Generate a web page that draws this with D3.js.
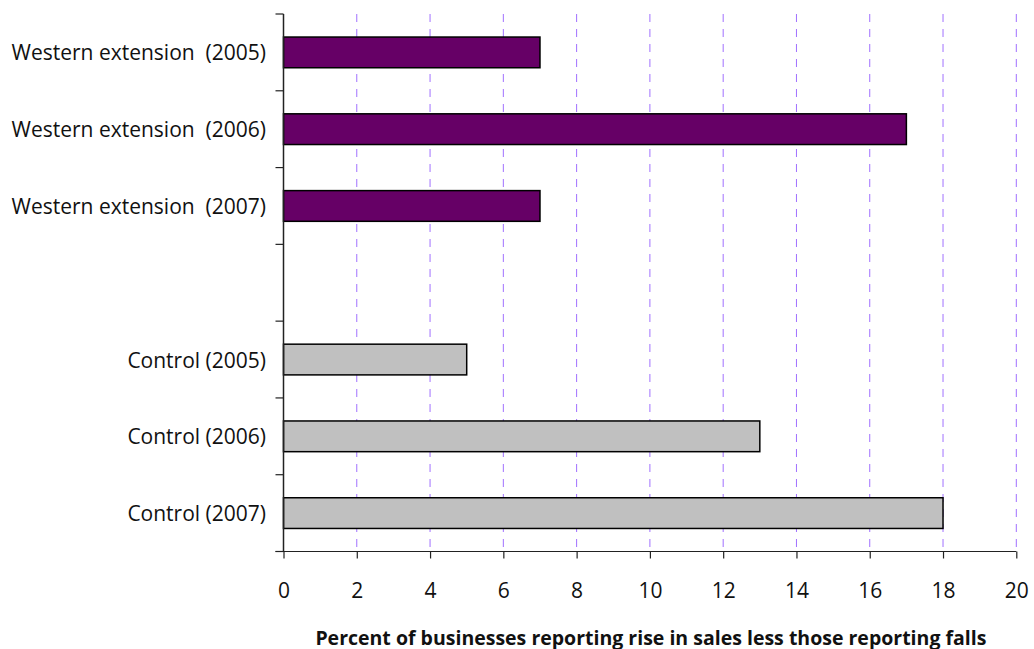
<!DOCTYPE html>
<html>
<head>
<meta charset="utf-8">
<script src="https://cdn.jsdelivr.net/npm/d3@7"></script>
<style>
  html, body { margin: 0; padding: 0; background: #fff; }
  svg { display: block; }
  text { font-family: "Open Sans", "Lato", sans-serif; }
</style>
</head>
<body>
<svg id="chart" width="1034" height="649"></svg>
<script>
const categories = [
  "Western extension  (2005)",
  "Western extension  (2006)",
  "Western extension  (2007)",
  "",
  "Control (2005)",
  "Control (2006)",
  "Control (2007)"
];
const values = [7, 17, 7, null, 5, 13, 18];
const groups = ["western", "western", "western", null, "control", "control", "control"];
const xTicks = [0, 2, 4, 6, 8, 10, 12, 14, 16, 18, 20];
const xTitle = "Percent of businesses reporting rise in sales less those reporting falls";
const colors = { western: "#660066", control: "#c0c0c0" };

(function () {
const svg = d3.select("#chart");
const mLeft = 283.5, mRight = 1016.3, mTop = 14, mBottom = 551.5;
const font = "'Open Sans', Lato, sans-serif";

const x = d3.scaleLinear().domain([0, 20]).range([mLeft, mRight]);
const y = d3.scaleBand().domain(d3.range(categories.length)).range([mTop, mBottom]).paddingInner(0.6).paddingOuter(0.3);

// gridlines
svg.append("g").selectAll("line").data(xTicks.filter(d => d > 0)).join("line")
  .attr("x1", d => x(d)).attr("x2", d => x(d))
  .attr("y1", mTop).attr("y2", mBottom)
  .attr("stroke", "#a070ff").attr("stroke-width", 1)
  .attr("stroke-dasharray", "8,7");

// bars
const data = categories.map((c, i) => ({ c, v: values[i], g: groups[i], i }))
  .filter(d => d.v !== null);
svg.append("g").selectAll("rect").data(data).join("rect")
  .attr("x", x(0))
  .attr("y", d => y(d.i))
  .attr("width", d => x(d.v) - x(0))
  .attr("height", y.bandwidth())
  .attr("fill", d => colors[d.g])
  .attr("stroke", "#000").attr("stroke-width", 1.5);

// y axis line and boundary ticks
svg.append("line").attr("x1", mLeft).attr("x2", mLeft).attr("y1", mTop).attr("y2", mBottom)
  .attr("stroke", "#222").attr("stroke-width", 1.5);
const bounds = d3.range(categories.length + 1).map(i => mTop + i * y.step());
svg.append("g").selectAll("line").data(bounds).join("line")
  .attr("x1", mLeft - 8).attr("x2", mLeft)
  .attr("y1", d => d).attr("y2", d => d)
  .attr("stroke", "#222").attr("stroke-width", 1.2);

// y labels
svg.append("g").selectAll("text").data(categories).join("text")
  .attr("x", 266)
  .attr("y", (d, i) => y(i) + y.bandwidth() / 2)
  .attr("text-anchor", "end")
  .attr("dominant-baseline", "central")
  .attr("font-size", 21)
  .attr("font-family", font)
  .attr("fill", "#111")
  .style("white-space", "pre")
  .text(d => d);

// x axis
const xAxis = d3.axisBottom(x).tickValues(xTicks).tickSize(7).tickPadding(25).tickFormat(d3.format("d"));
const gx = svg.append("g").attr("transform", `translate(0,${mBottom})`).call(xAxis);
gx.select(".domain").attr("stroke", "#222").attr("stroke-width", 1.2)
  .attr("d", `M${mLeft - 8},0H${mRight}`);
gx.selectAll(".tick line").attr("stroke", "#222").attr("stroke-width", 1.2);
gx.selectAll(".tick text").attr("font-size", 21).attr("fill", "#111")
  .attr("font-family", font);

// x title
svg.append("text")
  .attr("x", (mLeft + mRight) / 2 + 1)
  .attr("y", 637)
  .attr("text-anchor", "middle")
  .attr("dominant-baseline", "central")
  .attr("font-size", 19.5)
  .attr("font-family", font)
  .attr("font-weight", "bold")
  .attr("fill", "#111")
  .text(xTitle);
})();
</script>
</body>
</html>
